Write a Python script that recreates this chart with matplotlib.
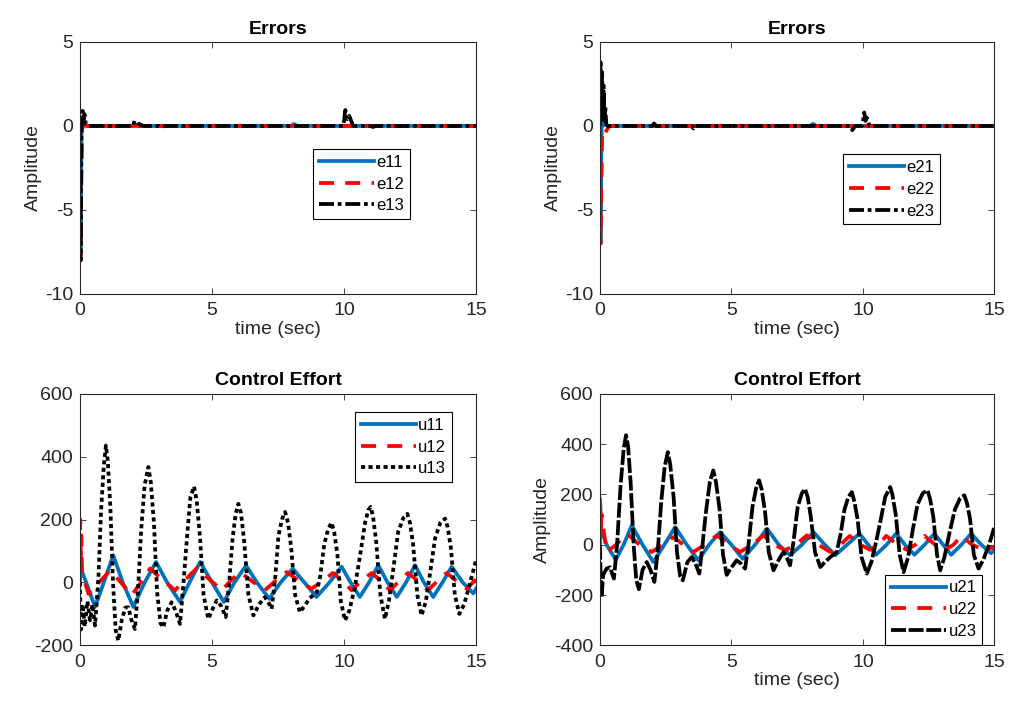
import matplotlib
matplotlib.use("Agg")
import matplotlib.pyplot as plt

plt.rcParams['font.family'] = ['Liberation Sans', 'DejaVu Sans']
plt.rcParams['axes.unicode_minus'] = False

# ---- Errors, subsystem 1
e11_t = [0, 0.02, 0.06, 0.12, 0.25, 2.0, 2.1, 2.3, 8.0, 8.1, 8.25, 15]
e11 = [0, -7.5, 0, 0.3, 0, 0, 0.1, 0, 0, 0.12, 0, 0]
e12_t = [0, 0.02, 0.07, 0.15, 0.3, 15]
e12 = [0, -8, -0.2, 0.05, 0, 0]
e13_t = [0, 0.02, 0.06, 0.1, 0.13, 0.17, 0.22, 0.35, 2.0, 2.07, 2.2, 2.4,
         3.0, 3.1, 3.2, 9.98, 10.05, 10.12, 10.2, 10.35, 11.0, 11.1, 11.2, 15]
e13 = [0, -8, 0.2, 0.9, 0.3, 0.7, 0.1, 0, 0, 0.3, 0.15, 0,
       0, -0.06, 0, 0, 0.95, 0.4, 0.6, 0, 0, -0.06, 0, 0]

# ---- Errors, subsystem 2
e21_t = [0, 0.02, 0.06, 0.12, 0.2, 0.3, 8.0, 8.1, 8.25, 15]
e21 = [0, -7, -0.2, 0.5, 0.1, 0, 0, 0.12, 0, 0]
e22_t = [0, 0.02, 0.08, 0.14, 0.2, 0.35, 15]
e22 = [0, -7, -0.6, -0.2, -0.4, 0, 0]
e23_t = [0, 0.02, 0.05, 0.08, 0.11, 0.14, 0.17, 0.2, 0.24, 0.3, 2.0, 2.05, 2.15,
         3.5, 3.55, 3.6, 9.5, 9.6, 9.7, 9.98, 10.05, 10.1, 10.15, 10.25, 15]
e23 = [0, 3.8, 0.3, 3.3, 0.4, 2.4, 0.3, 1.2, 0.1, 0, 0, 0.15, 0,
       0, -0.15, 0, 0, -0.25, 0, 0, 0.8, 0.3, 0.5, 0, 0]

# ---- Control effort, subsystem 1
u11_t = [0, 0.05, 0.23, 0.57, 0.9, 1.26, 1.62, 2.02, 2.45, 2.88, 3.3, 3.79, 4.15, 4.55,
         5.0, 5.45, 5.85, 6.29, 6.7, 7.17, 7.6, 8.06, 8.5, 8.96, 9.45, 9.91, 10.25, 10.6,
         10.95, 11.3, 11.65, 12.0, 12.35, 12.69, 13.03, 13.38, 13.73, 14.08, 14.5, 14.9, 15.0]
u11 = [80, 40, 1, -78, 0, 86, 0, -78, 0, 65, 0, -62, 0, 65,
       0, -62, 0, 54, 0, -52, 0, 44, 0, -46, 0, 50, 0, -46,
       0, 55, 0, -46, 0, 55, 0, -46, 0, 50, 0, -35, -20]
u12_t = [0, 0.01, 0.03, 0.05, 0.08, 0.32, 0.72, 1.14, 1.55, 1.96, 2.3, 2.65, 3.1, 3.6,
         4.0, 4.42, 4.9, 5.37, 5.7, 6.06, 6.5, 7.0, 7.4, 7.83, 8.3, 8.77, 9.2, 9.58, 9.95,
         10.29, 10.65, 11.05, 11.4, 11.74, 12.1, 12.42, 12.8, 13.18, 13.55, 13.89, 14.25,
         14.65, 15.0]
u12 = [0, 200, 60, 150, 30, -36, 0, 38, 0, -41, 0, 44, 10, -25,
       10, 45, 10, -25, 5, 33, 5, -25, 5, 33, 5, -20, 5, 30, 5,
       -25, 5, 30, 5, -25, 5, 30, 5, -25, 5, 30, 5,
       -20, 10]
u13_t = [0.0, 0.03, 0.10, 0.18, 0.28, 0.38, 0.47, 0.57, 0.70, 0.80,
         0.90, 0.98, 1.05, 1.15, 1.25, 1.35, 1.45, 1.58, 1.72, 1.83,
         1.95, 2.08, 2.20, 2.32, 2.45, 2.59, 2.68, 2.80, 2.92, 3.05,
         3.16, 3.30, 3.47, 3.62, 3.79, 3.92, 4.05, 4.18, 4.32, 4.42,
         4.55, 4.68, 4.86, 5.02, 5.18, 5.35, 5.52, 5.65, 5.78, 5.90,
         6.00, 6.10, 6.22, 6.38, 6.57, 6.78, 7.00, 7.12, 7.26, 7.40,
         7.52, 7.65, 7.77, 7.88, 8.00, 8.15, 8.33, 8.50, 8.70, 8.97,
         9.10, 9.25, 9.40, 9.53, 9.63, 9.75, 9.88, 10.04, 10.20, 10.40,
         10.60, 10.80, 10.92, 11.01, 11.10, 11.22, 11.38, 11.55, 11.70, 11.88,
         12.05, 12.25, 12.40, 12.50, 12.62, 12.78, 12.94, 13.10, 13.28, 13.45,
         13.65, 13.83, 13.93, 14.05, 14.20, 14.37, 14.55, 14.75, 15.00]
u13 = [0, -150, -70, -140, -60, -120, -70, -137, 20, 230,
       370, 435, 390, 240, 0, -150, -185, -120, -80, -79,
       -120, -148, -20, 170, 310, 367, 320, 190, -30, -130,
       -143, -90, -63, -90, -132, 0, 140, 270, 305, 260,
       140, -40, -116, -85, -57, -75, -110, 0, 140, 220,
       250, 220, 130, -40, -105, -70, -47, -60, -84, 20,
       150, 200, 224, 190, 110, -40, -95, -75, -50, -31,
       20, 120, 170, 190, 160, 90, -60, -121, -90, -20,
       80, 190, 230, 240, 210, 130, -40, -116, -60, 50,
       160, 205, 218, 190, 120, -40, -105, -60, 40, 140,
       190, 203, 175, 110, -40, -100, -70, -10, 70]

# ---- Control effort, subsystem 2
u21_t = [0, 0.05, 0.25, 0.6, 0.9, 1.21, 1.62, 2.03, 2.45, 2.86, 3.3, 3.74, 4.15, 4.57,
         5.0, 5.43, 5.9, 6.35, 6.8, 7.23, 7.68, 8.12, 8.55, 8.95, 9.4, 9.87, 10.2, 10.5,
         10.9, 11.27, 11.6, 11.96, 12.35, 12.72, 13.05, 13.36, 13.75, 14.12, 14.5, 14.88, 15.0]
u21 = [180, 60, 0, -60, 0, 77, 0, -69, 0, 70, 0, -62, 0, 50,
       0, -56, 0, 64, 0, -42, 0, 50, 0, -42, 0, 44, 0, -40,
       0, 44, 0, -40, 0, 44, 0, -40, 0, 44, 0, -34, -20]
u22_t = [0, 0.01, 0.03, 0.06, 0.25, 0.62, 1.02, 1.5, 1.97, 2.38, 2.79, 3.17, 3.55, 4.0,
         4.44, 4.9, 5.33, 5.78, 6.22, 6.63, 7.04, 7.45, 7.87, 8.3, 8.76, 9.15, 9.5, 9.9,
         10.27, 10.6, 10.89, 11.3, 11.67, 12.0, 12.34, 12.75, 13.13, 13.45, 13.74, 14.15,
         14.58, 15.0]
u22 = [0, 160, 40, 120, -29, 0, 44, 0, -29, 0, 30, 0, -29, 0,
       37, 0, -29, 0, 37, 0, -22, 0, 37, 0, -29, 0, 35, 0,
       -20, 0, 35, 0, -20, 0, 35, 0, -20, 0, 35, 0,
       -20, -10]
u23_t = [0.0, 0.03, 0.06, 0.12, 0.25, 0.38, 0.53, 0.65, 0.78, 0.90,
         0.99, 1.07, 1.17, 1.28, 1.38, 1.48, 1.62, 1.78, 1.92, 2.07,
         2.20, 2.33, 2.46, 2.58, 2.67, 2.80, 2.93, 3.05, 3.15, 3.32,
         3.49, 3.63, 3.78, 3.90, 4.03, 4.18, 4.31, 4.41, 4.55, 4.68,
         4.82, 5.00, 5.20, 5.36, 5.52, 5.65, 5.80, 5.95, 6.05, 6.15,
         6.28, 6.42, 6.60, 6.80, 6.98, 7.10, 7.23, 7.37, 7.52, 7.68,
         7.80, 7.90, 8.02, 8.18, 8.38, 8.55, 8.75, 9.00, 9.15, 9.30,
         9.45, 9.58, 9.68, 9.80, 9.95, 10.15, 10.32, 10.50, 10.68, 10.85,
         11.04, 11.12, 11.25, 11.40, 11.55, 11.72, 11.90, 12.08, 12.28, 12.46,
         12.56, 12.68, 12.82, 12.94, 13.10, 13.30, 13.50, 13.70, 13.86, 13.96,
         14.08, 14.22, 14.40, 14.58, 14.80, 15.00]
u23 = [0, -150, -208, -120, -95, -90, -135, 0, 230, 380,
       435, 390, 240, 0, -140, -177, -100, -69, -100, -148,
       -20, 170, 310, 368, 320, 190, -30, -125, -142, -70,
       -49, -75, -115, 0, 130, 250, 295, 250, 140, -40,
       -120, -90, -62, -75, -95, 0, 150, 230, 256, 220,
       130, -30, -102, -60, -29, -50, -82, 20, 150, 205,
       222, 190, 110, -30, -89, -70, -50, -30, 40, 140,
       190, 209, 170, 100, -50, -115, -70, 10, 100, 190,
       229, 200, 120, -40, -109, -50, 60, 160, 205, 216,
       180, 110, -40, -102, -50, 50, 140, 185, 196, 165,
       100, -40, -95, -60, 0, 70]

# Estilos (cores do MATLAB)
azul = '#0072BD'
cinza = '#262626'
lw = 2.7


def formata(ax, ylim, yticks, titulo, xlabel=True, ylabel=True):
    ax.set_xlim(0, 15)
    ax.set_ylim(*ylim)
    ax.set_xticks([0, 5, 10, 15])
    ax.set_yticks(yticks)
    ax.set_title(titulo, fontsize=14, fontweight='bold', pad=6)
    ax.tick_params(direction='in', top=True, right=True, length=4, width=0.6,
                   labelsize=14, colors=cinza, pad=6)
    ax.tick_params(axis='y', pad=5)
    for s in ax.spines.values():
        s.set_linewidth(0.8)
        s.set_color(cinza)
    if xlabel:
        ax.set_xlabel("time (sec)", fontsize=14, color=cinza, labelpad=1)
    if ylabel:
        ax.set_ylabel("Amplitude", fontsize=14, color=cinza, labelpad=2)


def legenda(ax, x, y):
    leg = ax.legend(loc='upper left', bbox_to_anchor=(x, y), fontsize=12,
                    handlelength=3.3, handletextpad=0.15, labelspacing=0.4,
                    borderpad=0.35, borderaxespad=0, fancybox=False,
                    framealpha=1, edgecolor='black')
    leg.get_frame().set_linewidth(0.8)


fig = plt.figure(figsize=(10.14, 7.04), dpi=100)

# Errors 1
ax1 = fig.add_axes([0.0789, 0.5824, 0.3905, 0.358])
ax1.plot(e11_t, e11, color=azul, lw=lw, label='e11')
ax1.plot(e12_t, e12, color='red', lw=lw, dashes=(4, 3), label='e12')
ax1.plot(e13_t, e13, color='black', lw=lw, dashes=(4, 1, 1, 1), label='e13')
formata(ax1, (-10, 5), [-10, -5, 0, 5], "Errors")
legenda(ax1, 0.588, 0.575)

# Errors 2
ax2 = fig.add_axes([0.5917, 0.5824, 0.3889, 0.358])
ax2.plot(e21_t, e21, color=azul, lw=lw, label='e21')
ax2.plot(e22_t, e22, color='red', lw=lw, dashes=(4, 3), label='e22')
ax2.plot(e23_t, e23, color='black', lw=lw, dashes=(4, 1, 1, 1), label='e23')
formata(ax2, (-10, 5), [-10, -5, 0, 5], "Errors")
legenda(ax2, 0.616, 0.554)

# Control Effort 1
ax3 = fig.add_axes([0.0789, 0.0833, 0.3905, 0.3575])
ax3.plot(u11_t, u11, color=azul, lw=lw, label='u11')
ax3.plot(u12_t, u12, color='red', lw=lw, dashes=(4, 3), label='u12')
ax3.plot(u13_t, u13, color='black', lw=lw, dashes=(1.1, 0.9), label='u13')
formata(ax3, (-200, 600), [-200, 0, 200, 400, 600], "Control Effort",
        xlabel=False, ylabel=False)
legenda(ax3, 0.694, 0.927)

# Control Effort 2
ax4 = fig.add_axes([0.5917, 0.0833, 0.3889, 0.3575])
ax4.plot(u21_t, u21, color=azul, lw=lw, label='u21')
ax4.plot(u22_t, u22, color='red', lw=lw, dashes=(4, 3), label='u22')
ax4.plot(u23_t, u23, color='black', lw=lw, dashes=(4, 0.7), label='u23')
formata(ax4, (-400, 600), [-400, -200, 0, 200, 400, 600], "Control Effort")
legenda(ax4, 0.723, 0.281)

fig.savefig("out.png", dpi=100)
